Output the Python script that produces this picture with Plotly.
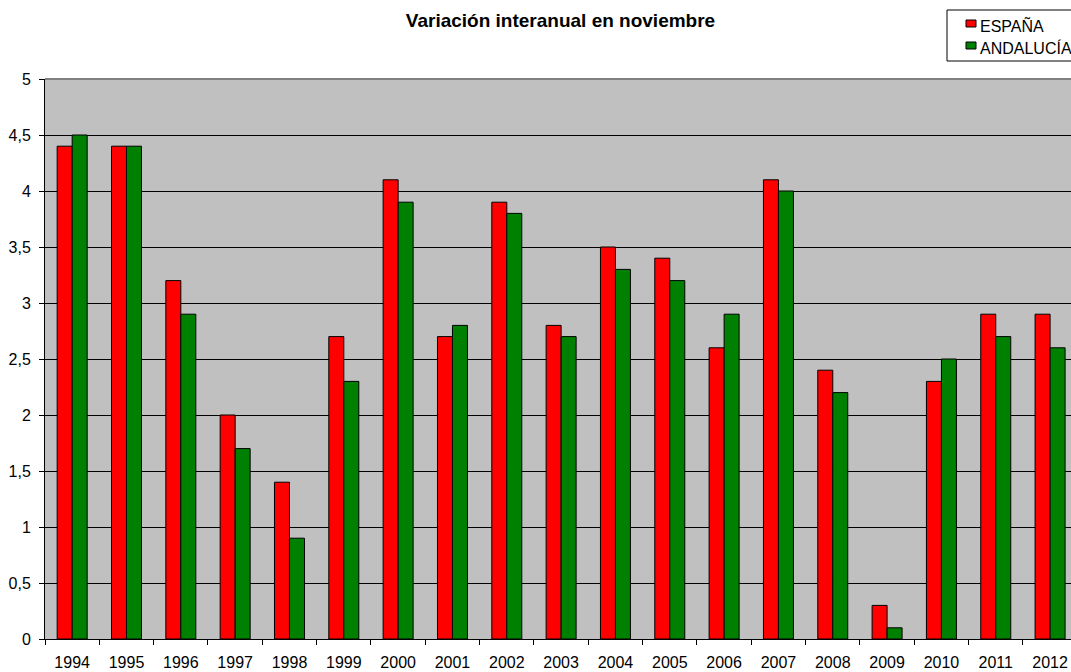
import plotly.graph_objects as go

years = ['1994', '1995', '1996', '1997', '1998', '1999', '2000', '2001', '2002', '2003',
         '2004', '2005', '2006', '2007', '2008', '2009', '2010', '2011', '2012']
espana = [4.4, 4.4, 3.2, 2.0, 1.4, 2.7, 4.1, 2.7, 3.9, 2.8,
          3.5, 3.4, 2.6, 4.1, 2.4, 0.3, 2.3, 2.9, 2.9]
andalucia = [4.5, 4.4, 2.9, 1.7, 0.9, 2.3, 3.9, 2.8, 3.8, 2.7,
             3.3, 3.2, 2.9, 4.0, 2.2, 0.1, 2.5, 2.7, 2.6]

W, H = 1071, 672
L, R, T, B = 45, 0, 79, 33
pw, ph = W - L - R, H - T - B


def px(x):
    return (x - L) / pw


def py(y):
    return (H - B - y) / ph


FONT = "Liberation Sans, Arial, sans-serif"

fig = go.Figure()
fig.add_trace(go.Bar(x=years, y=espana, name='ESPAÑA',
                     marker=dict(color='#FF0000', line=dict(color='black', width=1))))
fig.add_trace(go.Bar(x=years, y=andalucia, name='ANDALUCÍA',
                     marker=dict(color='#008000', line=dict(color='black', width=1))))

# grey plot-area border on top
fig.add_shape(type='line', xref='paper', yref='paper', x0=0, x1=1, y0=1, y1=1,
              line=dict(color='#808080', width=2), layer='between')

# hand-made legend box (right part is cut off like the original)
fig.add_shape(type='rect', xref='paper', yref='paper',
              x0=px(947), x1=px(1085), y0=py(61), y1=py(10),
              line=dict(color='black', width=1), fillcolor='white')
for name, color, yc in [('ESPAÑA', '#FF0000', 23.5), ('ANDALUCÍA', '#008000', 45.5)]:
    fig.add_shape(type='rect', xref='paper', yref='paper',
                  x0=px(966), x1=px(976), y0=py(yc + 3.5), y1=py(yc - 3.5),
                  line=dict(color='black', width=1), fillcolor=color)
    fig.add_annotation(text=name, xref='paper', yref='paper', x=px(977.5), y=py(yc + 2),
                       xanchor='left', yanchor='middle', showarrow=False,
                       font=dict(size=16, color='black', family=FONT))

fig.update_layout(
    width=W, height=H,
    margin=dict(l=L, r=R, t=T, b=B),
    title=dict(text='<b>Variación interanual en noviembre</b>', xref='paper', x=px(560.5),
               xanchor='center', y=1 - 20 / H, yanchor='middle',
               font=dict(size=19, color='black', family=FONT)),
    barmode='group', bargap=0.448, bargroupgap=0,
    plot_bgcolor='#C0C0C0', paper_bgcolor='white',
    showlegend=False,
    separators=',.',
    font=dict(family=FONT, color='black', size=16),
    xaxis=dict(type='category', range=[-0.5, 18.385], showgrid=False,
               showline=True, linecolor='black', linewidth=1,
               ticks='outside', tickson='boundaries', ticklen=5, tickcolor='black',
               ticklabelstandoff=9, tickfont=dict(size=16)),
    yaxis=dict(range=[0, 5], tick0=0, dtick=0.5, showgrid=True, gridcolor='black', gridwidth=1,
               zeroline=False, showline=True, linecolor='black', linewidth=1,
               ticks='outside', ticklen=5, tickcolor='black',
               ticklabelstandoff=5, tickfont=dict(size=16)),
)

fig.write_html("out.html", config={'displayModeBar': False},
               post_script="document.body.style.margin='0';")
